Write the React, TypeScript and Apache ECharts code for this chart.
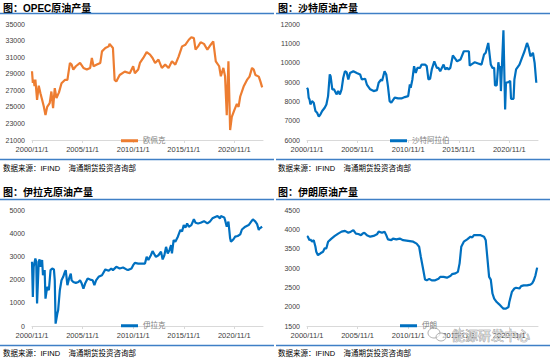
import React, { useEffect, useRef } from "react";
import * as echarts from "echarts";

// x values are months counted from 2000/11
const opecMonths = [0,1,2,3,4,6,8,10,12,14,16,18,21,23,25,27,29,32,35,39,42,45,47,49,52,57,61,65,69,71,73,77,81,83,87,91,92,96,98,100,104,110,116,120,122,126,128,132,136,140,143,146,150,154,158,162,166,170,174,178,182,186,189,192,194,197,200,204,208,212,215,218,222,224,227,229,231,233,235,237,240,243,245,247,251,255,258,261,263,265,269,271,273];
const opecValues = [29300,27900,28300,27500,28300,25850,27550,26650,25850,25050,24000,25000,25450,26850,24850,27250,26050,26750,27850,28250,28250,30300,30100,29500,29900,30300,29700,29500,29700,30900,29900,30100,30300,31700,32100,32300,32600,32100,28250,28050,28850,29250,29050,29900,29050,29500,30300,30900,31600,31300,30900,30300,30700,29700,30100,29700,30500,30100,31100,32300,32500,33100,33400,33300,31900,32300,32800,32600,31900,32500,32900,30500,29900,28700,29700,28700,24000,30500,22200,23800,24600,25350,25000,26250,27450,28250,28650,29700,29500,28850,28650,28050,27350];

const saudiMonths = [0,1,2,3,4,6,8,10,12,14,16,18,21,23,25,27,28,30,32,35,37,39,41,43,45,47,49,51,55,59,63,65,69,71,75,79,83,85,88,89,92,94,96,98,100,104,108,112,116,120,122,123,125,127,129,131,134,136,140,142,144,146,148,151,154,156,158,162,164,166,168,170,173,176,178,182,186,190,192,193,196,199,203,207,210,212,215,218,220,222,223,225,227,228,229,230,233,235,236,239,241,242,245,246,248,252,255,258,261,263,265,268,270,272];
const saudiValues = [8700,8620,8190,8100,7840,8010,7930,7500,7410,7210,7330,7500,7670,7840,8270,9390,9300,8620,8620,8360,8530,8360,8620,9220,9560,9510,9130,9470,9560,9470,9390,9130,9170,8870,8620,8530,8580,8960,9130,9050,9560,9390,8790,8010,7930,8190,8150,8150,8220,8270,8870,8700,9130,9820,9470,9730,9730,9900,9900,9820,9130,9170,9650,10070,9730,9730,9560,9900,9650,9730,9650,9730,10370,10200,10070,10160,10590,10590,10590,9850,9940,10020,9960,9900,10420,10510,11020,9900,9730,9730,8820,8820,10020,9730,9820,8530,11670,7580,8960,8990,9060,8130,8130,9130,9650,9900,10250,10590,11020,10760,10330,10510,9990,8960];

const iraqMonths = [0,1,2,4,5,6,8,9,10,12,13,15,16,18,20,22,24,26,27,28,30,31,33,35,37,39,40,42,44,46,47,49,52,55,57,59,61,63,66,69,72,74,76,79,83,87,91,94,96,100,104,108,112,114,118,120,122,126,130,134,136,138,141,143,145,147,150,153,155,157,159,161,163,165,166,168,170,173,176,178,180,182,184,186,189,192,194,197,200,204,208,211,214,218,220,223,224,228,229,231,233,235,236,239,241,244,247,249,253,257,260,262,265,267,269,270,273];
const iraqValues = [2770,1250,2550,2910,2770,970,2770,2870,2550,2840,2190,2410,1180,1690,1540,2410,2480,2440,1970,100,530,680,1540,1970,2120,2330,2410,1760,2050,2260,1970,1900,1860,1900,1970,1830,1610,1830,2050,2000,1970,1760,1970,2120,2190,2440,2380,2480,2410,2550,2480,2520,2440,2410,2480,2620,2720,2690,2690,2690,2980,2840,3050,3230,3100,2980,3050,3200,2870,3050,3410,3130,3270,3490,3130,3700,3630,3850,4140,4070,4350,4240,4420,4280,4350,4600,4450,4420,4450,4520,4420,4500,4640,4710,4740,4640,4740,4680,4570,4280,4500,3780,3630,3740,3850,3880,3950,4160,4280,4350,4500,4600,4500,4390,4140,4210,4280];

const iranMonths = [0,1,3,4,6,8,10,11,13,16,19,21,23,25,29,33,37,41,45,49,52,55,58,61,64,66,68,71,75,79,83,85,89,92,94,96,100,102,106,110,114,120,126,130,133,135,138,140,142,145,148,152,156,158,162,166,170,172,176,179,181,183,186,190,194,196,198,202,206,210,212,214,216,218,220,222,225,228,231,233,236,239,240,243,246,248,252,254,257,261,265,267,269,271,273];
const iranValues = [3825,3810,3720,3740,3680,3720,3550,3420,3330,3380,3420,3510,3510,3680,3760,3830,3890,3940,3960,3910,3940,3980,3890,3880,3850,3890,3910,3850,3810,3830,3870,3940,3910,3940,3850,3740,3720,3760,3740,3760,3720,3700,3680,3630,3550,3290,2940,2700,2680,2720,2680,2680,2720,2770,2770,2750,2790,2840,2860,2900,3120,3550,3680,3740,3810,3790,3850,3850,3850,3810,3720,3250,2770,2700,2340,2210,2120,2060,1990,1950,1950,1990,2120,2380,2470,2490,2470,2530,2550,2550,2570,2600,2680,2810,3010];

const titles = ["图：OPEC原油产量", "图：沙特原油产量", "图：伊拉克原油产量", "图：伊朗原油产量"];
const seriesNames = ["欧佩克", "沙特阿拉伯", "伊拉克", "伊朗"];
const yMins = [21000, 6000, 0, 1500];
const yMaxs = [35000, 12000, 5000, 4500];
const yIntervals = [2000, 1000, 1000, 500];
const sourceLeft = "数据来源：IFIND";
const sourceRight = "海通期货投资咨询部";
const watermark = "能源研发中心";

const FONT = '"Liberation Sans", "Noto Sans CJK SC", sans-serif';
const ORANGE = "#ED7D31";
const BLUE = "#0070C0";
const RULE = "#3F7FC6";

function monthLabel(v: number) {
  const y = 2000 + Math.floor((10 + v) / 12);
  const m = ((10 + v) % 12) + 1;
  return `${y}/${m}/1`;
}

export default function App() {
  const ref = useRef<HTMLDivElement>(null);
  useEffect(() => {
    document.body.style.margin = "0";
    const chart = echarts.init(ref.current!, undefined, { renderer: "svg" });
    const allMonths = [opecMonths, saudiMonths, iraqMonths, iranMonths];
    const allValues = [opecValues, saudiValues, iraqValues, iranValues];
    const colors = [ORANGE, BLUE, BLUE, BLUE];
    const gridPos = [
      { left: 32, top: 24 },
      { left: 307, top: 24 },
      { left: 32, top: 210 },
      { left: 307, top: 210 },
    ];
    const legendPos = [
      { left: 116, top: 132 },
      { left: 385, top: 132 },
      { left: 116, top: 317 },
      { left: 395, top: 317 },
    ];
    const grids = gridPos.map((g) => ({ left: g.left, top: g.top, width: 231, height: 116 }));
    const xAxes = gridPos.map((_, i) => ({
      type: "value",
      gridIndex: i,
      min: 0,
      max: 274,
      interval: 60,
      axisLine: { show: true, lineStyle: { color: "#d9d9d9", width: 1 } },
      axisTick: { show: true, length: 3, lineStyle: { color: "#d9d9d9" } },
      splitLine: { show: false },
      axisLabel: {
        formatter: (v: number) => monthLabel(v),
        fontSize: 7.5,
        color: "#404040",
        fontFamily: FONT,
        margin: 6,
        showMaxLabel: false,
      },
    }));
    const yAxes = gridPos.map((_, i) => ({
      type: "value",
      gridIndex: i,
      min: yMins[i],
      max: yMaxs[i],
      interval: yIntervals[i],
      axisLine: { show: false },
      axisTick: { show: false },
      splitLine: { show: false },
      axisLabel: { fontSize: 7, color: "#404040", fontFamily: FONT, margin: 7, formatter: (v: number) => String(v) },
    }));
    const series = allMonths.map((ms, i) => ({
      type: "line",
      name: seriesNames[i],
      xAxisIndex: i,
      yAxisIndex: i,
      data: ms.map((m, k) => [m, allValues[i][k]]),
      showSymbol: false,
      symbol: "none",
      lineStyle: { width: 2.2, color: colors[i] },
      itemStyle: { color: colors[i] },
    }));
    const legends = legendPos.map((p, i) => ({
      data: [seriesNames[i]],
      left: p.left,
      top: p.top,
      icon: "rect",
      itemWidth: 17,
      itemHeight: 3,
      itemGap: 5,
      selectedMode: false,
      textStyle: { fontSize: 7.5, color: "#7f7f7f", fontFamily: FONT },
    }));
    const titlePos = [
      { x: 3, y: 8, lineY: 13.5, footLine: 159.5, footY: 168 },
      { x: 278, y: 8, lineY: 13.5, footLine: 159.5, footY: 168 },
      { x: 3, y: 192.5, lineY: 199.5, footLine: 345.5, footY: 353 },
      { x: 278, y: 192.5, lineY: 199.5, footLine: 345.5, footY: 353 },
    ];
    const graphics: any[] = [];
    titlePos.forEach((t, i) => {
      const x0 = i % 2 === 0 ? 0 : 276;
      const x1 = i % 2 === 0 ? 274 : 550;
      graphics.push({
        type: "text",
        x: t.x,
        y: t.y,
        style: { text: titles[i], fontSize: 10, fontWeight: "bold", fill: "#000", fontFamily: FONT, textVerticalAlign: "middle" },
      });
      graphics.push({ type: "line", shape: { x1: x0, y1: t.lineY, x2: x1, y2: t.lineY }, style: { stroke: RULE, lineWidth: 1.5 } });
      graphics.push({ type: "line", shape: { x1: x0, y1: t.footLine, x2: x1, y2: t.footLine }, style: { stroke: RULE, lineWidth: 1.5 } });
      graphics.push({
        type: "text",
        x: t.x,
        y: t.footY,
        style: { text: sourceLeft, fontSize: 7.5, fill: "#000", fontFamily: FONT, textVerticalAlign: "middle" },
      });
      graphics.push({
        type: "text",
        x: t.x + 65.5,
        y: t.footY,
        style: { text: sourceRight, fontSize: 7.5, fill: "#000", fontFamily: FONT, textVerticalAlign: "middle" },
      });
    });
    // watermark overlay
    graphics.push({ type: "ellipse", z: 100, shape: { cx: 434, cy: 333, rx: 6, ry: 5 }, style: { fill: "none", stroke: "#9a9a9a", lineWidth: 0.8 } });
    graphics.push({ type: "ellipse", z: 100, shape: { cx: 441, cy: 337, rx: 5, ry: 4 }, style: { fill: "rgba(255,255,255,0.6)", stroke: "#9a9a9a", lineWidth: 0.8 } });
    graphics.push({
      type: "text",
      x: 452,
      y: 335,
      z: 100,
      style: { text: watermark, fontSize: 13, fill: "rgba(225,225,225,0.85)", stroke: "#8c8c8c", lineWidth: 0.6, fontFamily: FONT, textVerticalAlign: "middle" },
    });

    chart.setOption({
      animation: false,
      backgroundColor: "#fff",
      grid: grids,
      xAxis: xAxes,
      yAxis: yAxes,
      legend: legends,
      series,
      graphic: graphics,
    } as any);
    return () => chart.dispose();
  }, []);
  return <div ref={ref} style={{ position: "absolute", left: 0, top: 0, width: 550, height: 360 }} />;
}
